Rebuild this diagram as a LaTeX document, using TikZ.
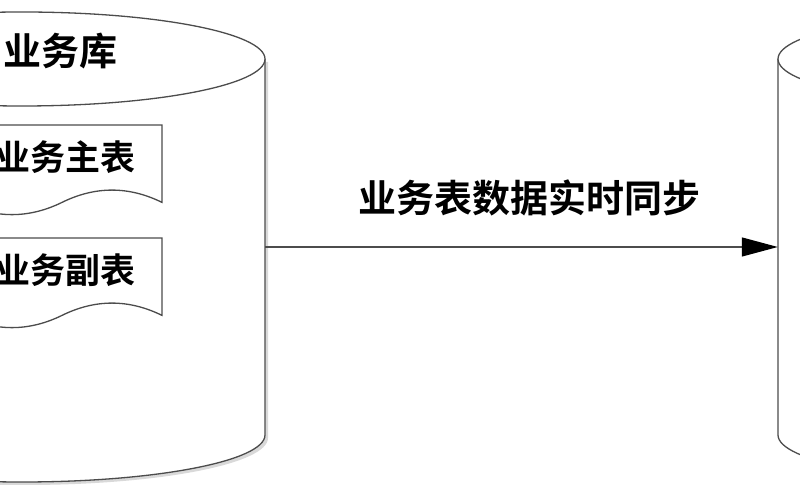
\documentclass[tikz,border=0pt]{standalone}
\usepackage{fontspec}
\newfontfamily\cjk{Noto Sans CJK SC}[BoldFont=* Bold]
\usetikzlibrary{arrows.meta, positioning, shadows}

\begin{document}
\begin{tikzpicture}[x=1pt, y=1pt, node distance=113pt,
    outline/.style={draw=black!70, line width=1.3pt, fill=white},
    dblabel/.style={font=\cjk\bfseries\fontsize{38}{40}\selectfont},
    tbllabel/.style={font=\cjk\bfseries\fontsize{35}{37}\selectfont},
    flow/.style={draw=black!70, line width=1.3pt, arrows={-{Triangle[length=36pt, width=19pt, color=black]}}}]

    \useasboundingbox (0,0) rectangle (800,500);
    \clip (0,0) rectangle (800,500);

    %% source database
    % Shapes
    \draw[outline, drop shadow={shadow xshift=3pt, shadow yshift=-3pt, opacity=0.3}] (-221,441) -- (-221,65) arc (180:360:243pt and 47pt) -- (265,441);
    \draw[outline] (22,441) ellipse (243pt and 47pt);
    \draw[outline] (-38,375) -- (162,375) -- (162,297.6) .. controls (128.7,314) and (95.3,314) .. (62,297.6) .. controls (28.7,281.3) and (-4.7,281.3) .. (-38,297.6) -- cycle;
    \draw[outline, shift={(0,-113)}] (-38,375) -- (162,375) -- (162,297.6) .. controls (128.7,314) and (95.3,314) .. (62,297.6) .. controls (28.7,281.3) and (-4.7,281.3) .. (-38,297.6) -- cycle;

    % Nodes
    \node[minimum width=486pt, minimum height=376pt] (srcdb) at (22,253) {};
    \node[dblabel] (srcname) at (60,449) {业务库};
    \node[tbllabel] (maintbl) at (65,343) {业务主表};
    \node[tbllabel, below of=maintbl] (subtbl) {业务副表};

    %% target database
    % Shapes
    \draw[outline] (778,441) -- (778,65) arc (180:360:243pt and 47pt) -- (1264,441);
    \draw[outline] (1021,441) ellipse (243pt and 47pt);

    % Nodes
    \node[minimum width=486pt, minimum height=376pt] (dstdb) at (1021,253) {};

    % Connections
    \draw[flow] (srcdb.east) -- node[midway, xshift=8pt, yshift=49pt, dblabel] (synclbl) {业务表数据实时同步} (dstdb.west);
\end{tikzpicture}
\end{document}
